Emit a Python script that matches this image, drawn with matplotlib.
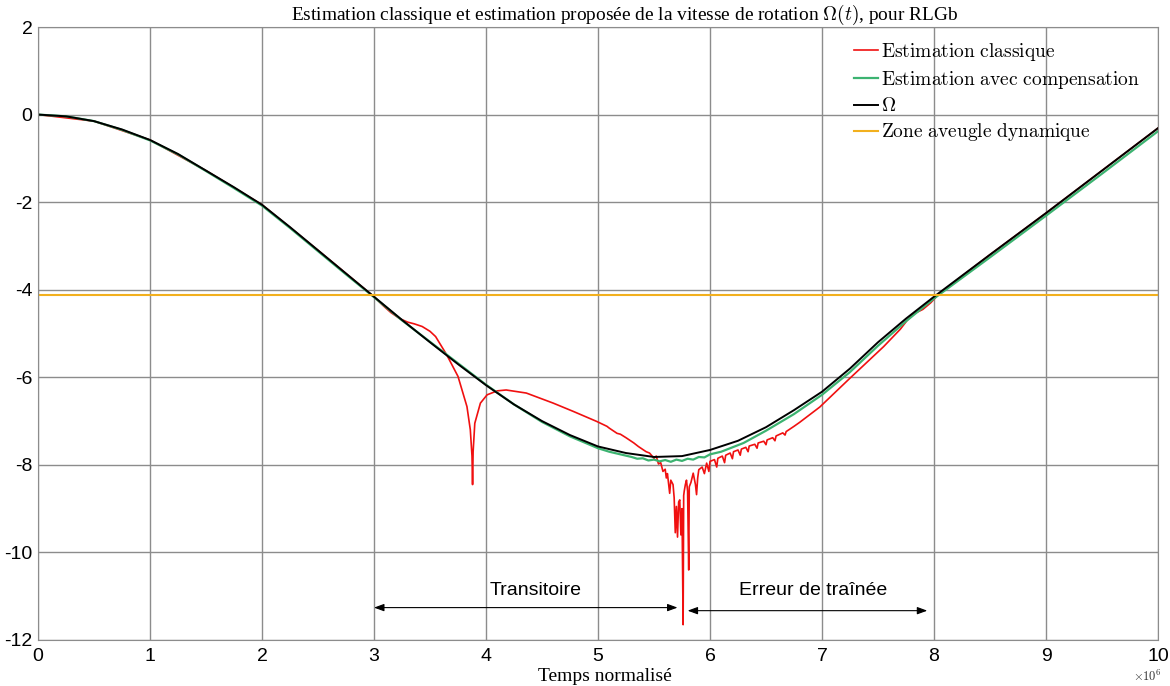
import matplotlib
matplotlib.use("Agg")
import matplotlib.pyplot as plt

# ---- data (t in units of 1e6) ----
omega_t = [0.0, 0.25, 0.5, 0.75, 1.0, 1.25, 1.5, 1.75, 2.0, 2.25, 2.5, 2.75,
           3.0, 3.25, 3.5, 3.75, 4.0, 4.25, 4.5, 4.75, 5.0, 5.25, 5.5, 5.75,
           6.0, 6.25, 6.5, 6.75, 7.0, 7.25, 7.5, 7.75, 8.0, 8.5, 9.0, 9.5, 10.0]
omega_v = [0.0, -0.04, -0.15, -0.34, -0.58, -0.9, -1.28, -1.66, -2.06, -2.57,
           -3.1, -3.63, -4.16, -4.69, -5.2, -5.7, -6.18, -6.62, -7.0, -7.32,
           -7.58, -7.73, -7.82, -7.8, -7.66, -7.45, -7.14, -6.75, -6.33, -5.8,
           -5.2, -4.66, -4.16, -3.2, -2.25, -1.28, -0.31]

comp_t = [0.0, 0.25, 0.5, 0.75, 1.0, 1.25, 1.5, 1.75, 2.0, 2.25, 2.5, 2.75,
          3.0, 3.25, 3.5, 3.75, 4.0, 4.25, 4.5, 4.75, 5.0, 5.1, 5.2, 5.3, 5.35,
          5.4, 5.45, 5.5, 5.55, 5.6, 5.65, 5.7, 5.75, 5.8, 5.85, 5.9, 5.95,
          6.0, 6.1, 6.2, 6.3, 6.5, 6.75, 7.0, 7.25, 7.5, 7.75, 8.0, 8.5, 9.0,
          9.5, 10.0]
comp_v = [0.0, -0.04, -0.15, -0.35, -0.59, -0.91, -1.29, -1.68, -2.08, -2.59,
          -3.12, -3.65, -4.17, -4.7, -5.19, -5.68, -6.17, -6.62, -7.02, -7.35,
          -7.62, -7.7, -7.76, -7.82, -7.86, -7.85, -7.9, -7.88, -7.92, -7.89,
          -7.93, -7.88, -7.91, -7.86, -7.88, -7.82, -7.83, -7.76, -7.7, -7.6,
          -7.5, -7.22, -6.84, -6.4, -5.88, -5.28, -4.72, -4.2, -3.26, -2.31,
          -1.35, -0.38]

classic_t = [0.0, 0.5, 1.0, 1.5, 2.0, 2.5, 3.0, 3.08, 3.15, 3.23, 3.30, 3.36,
             3.43, 3.5, 3.55, 3.6, 3.65, 3.75, 3.83, 3.86, 3.875, 3.88, 3.885,
             3.90, 3.95, 4.01, 4.10, 4.18, 4.36, 4.60, 4.78, 4.99, 5.08, 5.1,
             5.17, 5.2, 5.25, 5.32, 5.36, 5.43, 5.46, 5.50, 5.52, 5.54, 5.56,
             5.58, 5.60, 5.61, 5.62, 5.64, 5.65, 5.67, 5.68, 5.69, 5.70, 5.71,
             5.72, 5.73, 5.74, 5.75, 5.76, 5.765, 5.77, 5.78, 5.79, 5.80, 5.81,
             5.815, 5.83, 5.85, 5.87, 5.88, 5.89, 5.90, 5.93, 5.95, 5.97, 5.99,
             6.00, 6.04, 6.06, 6.07, 6.11, 6.13, 6.14, 6.18, 6.20, 6.21, 6.25,
             6.27, 6.28, 6.32, 6.34, 6.35, 6.40, 6.42, 6.43, 6.48, 6.50, 6.51,
             6.56, 6.58, 6.59, 6.65, 6.67, 6.68, 6.75, 6.80, 6.98, 7.25, 7.55,
             7.70, 7.76, 7.82, 7.90, 7.97, 8.05, 8.5, 9.0, 9.5, 10.0]
classic_v = [0.0, -0.15, -0.58, -1.28, -2.06, -3.1, -4.16, -4.36, -4.52, -4.66,
             -4.74, -4.78, -4.84, -4.95, -5.07, -5.28, -5.49, -5.98, -6.67, -7.2,
             -7.8, -8.45, -7.7, -7.05, -6.59, -6.40, -6.31, -6.29, -6.36, -6.59,
             -6.78, -7.01, -7.12, -7.16, -7.28, -7.3, -7.38, -7.50, -7.58, -7.70,
             -7.73, -7.85, -7.80, -7.98, -7.95, -8.15, -8.10, -8.30, -8.20, -8.65,
             -8.35, -8.45, -8.75, -9.55, -8.95, -9.65, -8.85, -8.80, -9.60, -9.0,
             -11.65, -8.7, -8.6, -8.45, -8.35, -8.6, -10.4, -8.5, -8.4, -8.19,
             -8.45, -8.68, -8.3, -8.11, -8.05, -8.2, -7.96, -8.15, -7.92, -7.88,
             -8.05, -7.85, -7.80, -7.95, -7.78, -7.73, -7.86, -7.70, -7.66, -7.78,
             -7.64, -7.60, -7.70, -7.57, -7.53, -7.62, -7.50, -7.46, -7.54, -7.43,
             -7.38, -7.45, -7.34, -7.27, -7.32, -7.24, -7.12, -7.03, -6.68, -6.02,
             -5.3, -4.9, -4.7, -4.55, -4.45, -4.3, -4.08, -3.2, -2.25, -1.28,
             -0.31]

zone_level = -4.12
x_range = [0.0, 10.0]

xticks = list(range(0, 11))
yticks = [2, 0, -2, -4, -6, -8, -10, -12]

# (start, end, y) of the two double arrows, and their label positions
arrow_transit = (3.0, 5.71, -11.26)
arrow_trainee = (5.80, 7.94, -11.33)
label_transit = (4.44, "Transitoire")
label_trainee = (6.92, "Erreur de traînée")

plt.rcParams["mathtext.fontset"] = "cm"

fig = plt.figure(figsize=(11.7, 6.86), dpi=100)
ax = fig.add_axes([38 / 1170, 1 - 640 / 686, 1120 / 1170, 613 / 686])

ax.plot(classic_t, classic_v, color="#f01010", lw=1.2,
        label=r"$\mathrm{Estimation\ classique}$")
ax.plot(comp_t, comp_v, color="#3cb371", lw=1.6,
        label=r"$\mathrm{Estimation\ avec\ compensation}$")
ax.plot(omega_t, omega_v, color="black", lw=1.4, label=r"$\Omega$")
ax.plot(x_range, [zone_level, zone_level], color="#f2b01e", lw=1.5,
        label=r"$\mathrm{Zone\ aveugle\ dynamique}$")

ax.set_xlim(0, 10)
ax.set_ylim(-12, 2)
ax.set_xticks(xticks)
ax.set_yticks(yticks)
ax.set_yticklabels([str(v) for v in yticks])
ax.grid(True, color="#8c8c8c", lw=1.0)
ax.set_axisbelow(True)
ax.tick_params(length=0, labelsize=14)
ax.tick_params(axis="x", pad=6)
ax.tick_params(axis="y", pad=4)
for lab in ax.get_xticklabels() + ax.get_yticklabels():
    lab.set_family(["Liberation Sans Narrow", "Liberation Sans"])
for s in ax.spines.values():
    s.set_color("#8c8c8c")

ax.set_title(r"Estimation classique et estimation proposée de la vitesse de rotation $\Omega(t)$, pour RLGb",
             family="Liberation Serif", fontsize=13.95, pad=5, x=0.524)
ax.set_xlabel("Temps normalisé", family="Liberation Serif", fontsize=14, labelpad=1)
ax.xaxis.set_label_coords(0.506, -0.045)
ax.text(1.0036, -0.059, r"$\times10^6$", transform=ax.transAxes, fontsize=9,
        ha="right", va="center", color="#333333")

ax.legend(loc="upper right", frameon=False, fontsize=14,
          handlelength=1.2, handletextpad=0.2, labelspacing=0.3,
          bbox_to_anchor=(1.0, 1.006))

for (x0, x1, y), (tx, txt) in ((arrow_transit, label_transit),
                               (arrow_trainee, label_trainee)):
    ax.annotate("", xy=(x1, y), xytext=(x0, y),
                arrowprops=dict(arrowstyle="<|-|>,head_length=0.6,head_width=0.22",
                                color="black", lw=0.8, shrinkA=0, shrinkB=0))
    ax.text(tx, -10.86, txt, family="Liberation Sans",
            fontsize=14, ha="center", va="center")

fig.savefig("out.png", dpi=100)
